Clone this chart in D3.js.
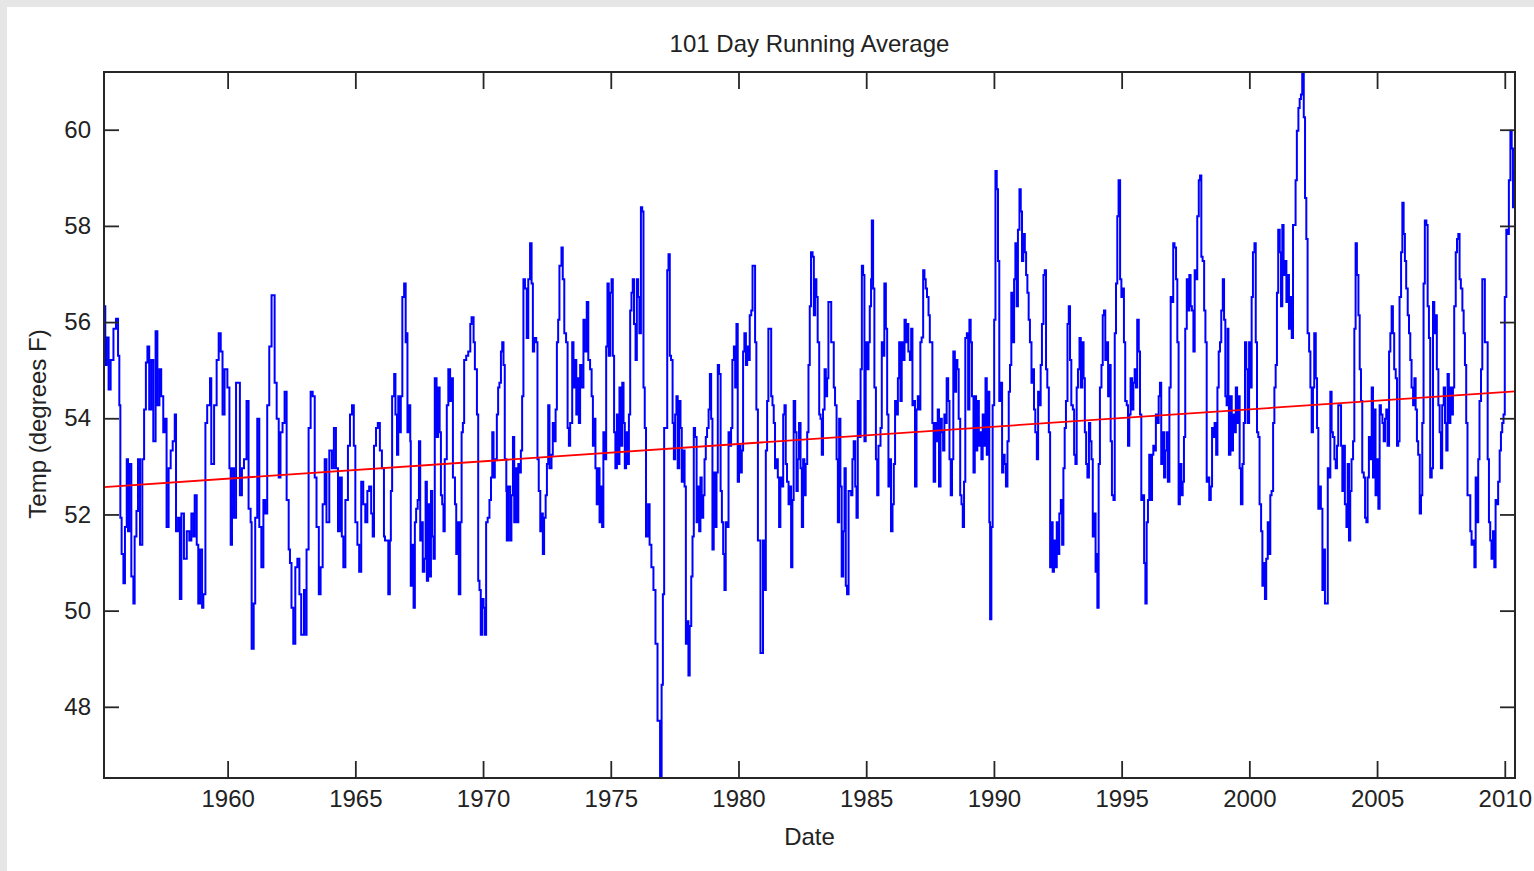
<!DOCTYPE html>
<html>
<head>
<meta charset="utf-8">
<script src="https://cdn.jsdelivr.net/npm/d3@7"></script>
<style>
    body { margin: 0; background: #fff; }
    text { font-family: 'Liberation Sans', Arial, sans-serif; fill: #222; }
</style>
</head>
<body>
<svg id="chart"></svg>
<script>
// 101 day running average, [decimal year, deg F]
const seg1955 = [
[1955.16,56.33],[1955.21,55.11],[1955.26,55.68],[1955.34,54.60],[1955.42,55.21],[1955.53,55.86],[1955.63,56.07],[1955.71,55.30],[1955.76,54.27],[1955.80,51.93],[1955.85,51.18],[1955.92,50.57],[1955.98,51.74],[1956.05,53.15],[1956.10,51.65],[1956.15,53.05],[1956.23,50.71],[1956.31,50.15],[1956.36,51.54],[1956.43,52.07],[1956.49,53.15],[1956.57,51.37],[1956.66,53.15],[1956.73,54.18],[1956.80,55.16],[1956.86,55.49],[1956.93,54.18],[1957.01,55.21],[1957.09,53.52],[1957.18,55.81],[1957.25,54.27],[1957.33,55.02],[1957.40,54.46],[1957.48,53.71],[1957.55,53.99],[1957.61,51.74],[1957.69,52.96],[1957.77,53.33],[1957.85,53.52],[1957.93,54.08],[1957.98,51.65],[1958.06,51.93],[1958.13,50.24],[1958.19,52.02],[1958.29,51.08],[1958.40,51.65],[1958.50,51.46],[1958.58,52.02],[1958.66,51.54],[1958.71,52.40],[1958.79,51.37],[1958.85,50.15],[1958.92,51.27],[1959.00,50.06],[1959.05,50.34],[1959.13,53.90],[1959.20,54.27],[1959.31,54.83],[1959.36,53.05],[1959.47,54.27],[1959.57,55.21],[1959.65,55.77],[1959.73,55.39],[1959.80,54.08],[1959.88,55.02],[1959.99,54.64],
[1960.07,52.96],[1960.12,51.37],[1960.17,52.96],[1960.25,51.93],[1960.33,54.74],[1960.40,54.74],[1960.48,52.40],[1960.56,52.96],[1960.64,53.15],[1960.74,54.36],[1960.82,52.12],[1960.90,51.84],[1960.94,49.21],[1961.02,50.15],[1961.08,51.93],[1961.16,53.99],[1961.24,51.74],[1961.32,50.90],[1961.40,52.30],[1961.47,52.02],[1961.55,54.27],[1961.63,55.49],[1961.72,56.56],[1961.79,56.56],[1961.84,54.74],[1961.92,53.99],[1962.00,52.77],[1962.07,53.71],[1962.15,53.90],[1962.23,54.55],[1962.31,52.30],[1962.39,51.27],[1962.44,50.99],[1962.50,50.06],[1962.57,49.31],[1962.65,50.90],[1962.73,51.08],[1962.81,50.34],[1962.88,49.50],[1962.99,50.43],[1963.07,49.50],[1963.09,51.27],[1963.17,53.80],[1963.25,54.55],[1963.33,54.46],[1963.41,52.77],[1963.48,51.74],[1963.57,50.34],[1963.64,50.90],[1963.72,52.21],[1963.80,53.15],[1963.87,51.84],[1963.98,53.33],[1964.08,52.96],[1964.16,53.80],[1964.24,52.96],[1964.32,51.65],[1964.40,52.77],[1964.47,51.54],[1964.53,50.90],[1964.61,52.30],[1964.71,53.43],[1964.79,54.08],[1964.87,54.27],[1964.94,53.43],[1965.00,51.84],[1965.08,51.37],[1965.15,50.81],[1965.23,52.68],[1965.31,52.21],[1965.39,51.84],[1965.47,52.49],[1965.54,52.58],[1965.62,52.02],[1965.68,51.54],[1965.73,53.43],[1965.81,53.80],[1965.88,53.90],[1965.96,53.33],[1966.04,52.96],[1966.12,51.54]
];
const seg1966 = [
[1966.16,51.46],[1966.29,50.34],[1966.35,51.46],[1966.39,52.49],[1966.44,54.46],[1966.52,54.92],[1966.57,54.08],[1966.63,53.24],[1966.68,54.46],[1966.74,53.71],[1966.78,54.46],[1966.84,56.52],[1966.91,56.80],[1966.97,55.58],[1967.02,55.77],[1967.04,53.71],[1967.10,54.27],[1967.15,53.52],[1967.17,50.52],[1967.23,51.37],[1967.28,50.06],[1967.33,51.84],[1967.38,52.12],[1967.44,52.30],[1967.49,53.52],[1967.54,51.46],[1967.59,51.84],[1967.64,50.81],[1967.70,51.08],[1967.75,52.68],[1967.80,50.62],[1967.85,52.21],[1967.91,50.71],[1967.96,52.49],[1968.01,51.54],[1968.06,51.08],[1968.11,54.83],[1968.18,53.61],[1968.24,54.64],[1968.30,53.71],[1968.35,52.40],[1968.40,52.21],[1968.45,51.65],[1968.50,53.15],[1968.58,54.27],[1968.64,55.02],[1968.71,54.36],[1968.77,54.83],[1968.82,52.77],[1968.90,52.21],[1968.95,51.18],[1969.00,51.84],[1969.05,50.34],[1969.11,51.84],[1969.16,53.71],[1969.21,53.90],[1969.26,55.21],[1969.34,55.30],[1969.42,55.39],[1969.50,55.96],[1969.55,56.10],[1969.63,55.58],[1969.68,55.02],[1969.76,54.08],[1969.81,50.62],[1969.86,50.43],[1969.91,49.50],[1969.97,50.24],
[1970.02,50.06],[1970.07,49.50],[1970.12,51.84],[1970.18,51.93],[1970.25,52.30],[1970.31,52.77],[1970.36,53.71],[1970.41,52.77],[1970.46,53.15],[1970.54,54.08],[1970.59,54.64],[1970.64,54.74],[1970.70,55.39],[1970.75,55.58],[1970.80,55.11],[1970.85,53.15],[1970.91,52.49],[1970.93,51.46],[1970.98,52.58],[1971.06,51.46],[1971.11,52.40],[1971.17,53.61],[1971.22,51.84],[1971.27,52.96],[1971.32,51.84],[1971.38,53.05],[1971.43,52.87],[1971.48,53.33],[1971.53,54.46],[1971.58,56.89],[1971.64,56.70],[1971.71,55.67],[1971.77,56.89],[1971.84,57.64],[1971.90,56.80],[1971.95,55.39],[1972.00,55.67],[1972.08,55.58],[1972.13,53.15],[1972.18,52.49],[1972.24,51.65],[1972.29,52.02],[1972.34,51.18],[1972.39,51.93],[1972.45,52.40],[1972.50,53.05],[1972.55,54.27],[1972.60,52.96],[1972.68,53.24],[1972.73,53.90],[1972.78,53.52],[1972.84,54.18],[1972.89,55.58],[1972.94,56.05],[1972.99,57.17],[1973.07,57.55],[1973.12,56.89],[1973.18,55.77],[1973.25,55.58],[1973.31,53.80],[1973.36,53.43],[1973.41,53.90],[1973.49,55.58],[1973.54,54.64],[1973.59,55.21],[1973.65,54.08],[1973.70,54.83],[1973.75,53.90],[1973.80,55.11],[1973.85,54.64],[1973.93,56.05],[1973.98,55.39],[1974.06,56.42],[1974.12,55.21],[1974.19,55.02],[1974.25,54.46],[1974.30,53.43],[1974.35,53.99],[1974.40,52.96],[1974.45,52.21],[1974.51,52.96],[1974.56,51.84],[1974.61,52.58],[1974.66,51.74],[1974.71,53.71],[1974.77,53.15],[1974.82,55.49],[1974.87,56.80],[1974.92,55.30],[1974.98,56.61],[1975.03,56.89],[1975.08,55.30],[1975.13,53.71],[1975.18,52.96],[1975.24,54.08],[1975.29,53.05],[1975.34,54.64],[1975.39,53.43],[1975.45,54.74],[1975.50,53.90],[1975.55,52.96],[1975.60,53.71],[1975.65,53.05],[1975.71,54.08],[1975.76,56.24],[1975.81,56.61],[1975.86,56.89],[1975.91,55.96],[1975.97,55.21],[1976.02,56.89],[1976.07,56.52],[1976.12,55.77],[1976.18,58.39],[1976.23,58.30],[1976.28,54.64],[1976.33,53.80],[1976.38,51.54],[1976.46,52.21],[1976.52,51.37],[1976.59,50.90],[1976.67,50.43],[1976.75,49.31],[1976.83,47.71],[1976.88,47.71],[1976.93,46.52],[1976.99,48.46],[1977.04,50.34],[1977.09,53.80]
];
const seg1977 = [
[1977.21,57.08],[1977.26,57.41],[1977.31,55.30],[1977.36,55.21],[1977.42,53.90],[1977.47,53.15],[1977.52,54.08],[1977.57,54.46],[1977.62,52.96],[1977.68,54.36],[1977.73,53.80],[1977.78,52.68],[1977.83,53.33],[1977.89,52.58],[1977.94,49.31],[1977.99,49.78],[1978.04,48.65],[1978.09,49.68],[1978.15,50.71],[1978.20,51.54],[1978.25,53.80],[1978.30,53.61],[1978.36,51.84],[1978.41,52.58],[1978.46,51.65],[1978.51,52.77],[1978.56,51.93],[1978.62,52.40],[1978.67,53.15],[1978.72,53.61],[1978.77,53.80],[1978.83,54.18],[1978.88,54.92],[1978.93,53.99],[1978.98,51.27],[1979.03,52.87],[1979.09,51.74],[1979.14,52.87],[1979.19,55.11],[1979.24,54.92],[1979.30,52.49],[1979.35,51.84],[1979.40,51.18],[1979.45,50.43],[1979.50,51.84],[1979.56,51.74],[1979.61,53.71],[1979.66,53.43],[1979.71,53.80],[1979.76,55.21],[1979.82,55.49],[1979.87,54.64],[1979.92,55.96],[1979.97,52.68],
[1980.02,53.43],[1980.08,52.87],[1980.13,53.33],[1980.18,55.39],[1980.23,55.77],[1980.29,55.11],[1980.34,55.49],[1980.39,55.21],[1980.44,56.14],[1980.50,56.24],[1980.55,57.17],[1980.60,57.17],[1980.65,55.58],[1980.70,54.18],[1980.76,51.46],[1980.81,51.46],[1980.86,49.12],[1980.91,49.12],[1980.96,51.46],[1981.02,50.43],[1981.07,53.33],[1981.12,54.36],[1981.17,55.86],[1981.22,55.86],[1981.28,54.46],[1981.33,54.27],[1981.38,53.90],[1981.43,52.96],[1981.49,53.15],[1981.54,52.77],[1981.59,51.74],[1981.64,52.77],[1981.69,52.58],[1981.75,54.08],[1981.80,54.27],[1981.85,53.05],[1981.90,52.68],[1981.96,52.21],[1982.01,52.58],[1982.06,50.90],[1982.11,52.30],[1982.16,54.36],[1982.22,53.71],[1982.27,52.49],[1982.32,53.15],[1982.37,53.90],[1982.43,52.96],[1982.48,51.74],[1982.53,53.15],[1982.58,52.40],[1982.63,53.05],[1982.69,53.71],[1982.74,55.11],[1982.79,56.33],[1982.84,57.45],[1982.90,57.36],[1982.95,56.14],[1983.00,56.89],[1983.05,56.52],[1983.10,55.58],[1983.16,54.08],[1983.21,53.99],[1983.26,53.24],[1983.31,54.18],[1983.37,55.02],[1983.42,54.46],[1983.47,54.83],[1983.52,56.42],[1983.57,56.42],[1983.63,55.58],[1983.68,55.58],[1983.73,54.64],[1983.78,54.27],[1983.84,53.15],[1983.89,51.84],[1983.94,53.99],[1983.99,52.58],[1984.04,50.71],[1984.10,51.65],[1984.15,52.96],[1984.20,50.52],[1984.25,50.34],[1984.31,52.49],[1984.36,52.49],[1984.41,52.40],[1984.46,53.15],[1984.51,53.52],[1984.57,52.58],[1984.62,51.93],[1984.67,54.36],[1984.72,53.61],[1984.78,55.02],[1984.83,57.17],[1984.88,56.98],[1984.93,53.52],[1984.98,55.58],[1985.04,55.02],[1985.09,55.58],[1985.14,56.33],[1985.19,56.89],[1985.22,58.11],[1985.27,56.70],[1985.32,54.64],[1985.38,53.15],[1985.43,52.40],[1985.48,53.43],[1985.56,53.80],[1985.61,55.58],[1985.66,55.30],[1985.71,56.80],[1985.77,55.86],[1985.82,54.08],[1985.87,52.58],[1985.92,53.15],[1985.97,51.65],[1986.03,52.21],[1986.08,53.05],[1986.13,54.36],[1986.18,54.08],[1986.24,54.83],[1986.29,55.58],[1986.34,54.36],[1986.39,55.58],[1986.44,55.21],[1986.50,56.05],[1986.55,55.58],[1986.60,55.96],[1986.65,55.39],[1986.71,55.21],[1986.76,55.86],[1986.81,54.27],[1986.86,54.36],[1986.91,52.58],[1986.97,54.18],[1987.02,54.46],[1987.07,54.18],[1987.12,55.58],[1987.17,55.68],[1987.23,57.08],[1987.28,56.89],[1987.33,56.70],[1987.38,56.52],[1987.44,56.14],[1987.49,55.58],[1987.54,55.58],[1987.59,53.90],[1987.64,52.68],[1987.70,53.90],[1987.75,53.52],[1987.80,54.18],[1987.85,52.58],[1987.91,53.99],[1987.96,53.71],[1988.01,53.33],[1988.06,54.08],[1988.11,53.90]
];
const seg1988 = [
[1988.15,54.83],[1988.21,54.36],[1988.26,53.15],[1988.31,52.40],[1988.36,53.15],[1988.41,55.39],[1988.47,54.55],[1988.52,55.21],[1988.57,55.02],[1988.62,53.99],[1988.68,52.40],[1988.73,52.21],[1988.78,51.74],[1988.83,52.68],[1988.88,55.67],[1988.94,55.77],[1988.99,54.18],[1989.04,56.05],[1989.09,55.58],[1989.14,54.46],[1989.20,52.87],[1989.25,54.46],[1989.30,53.33],[1989.35,54.36],[1989.41,53.43],[1989.46,53.71],[1989.51,53.15],[1989.56,54.08],[1989.61,53.43],[1989.67,54.83],[1989.72,53.24],[1989.77,54.55],[1989.82,51.84],[1989.85,49.82],[1989.90,51.74],[1989.95,54.27],
[1990.01,56.05],[1990.06,59.14],[1990.11,58.76],[1990.16,57.27],[1990.21,54.36],[1990.27,54.74],[1990.32,52.87],[1990.37,53.24],[1990.42,53.05],[1990.47,52.58],[1990.53,53.52],[1990.58,54.55],[1990.63,55.11],[1990.68,56.61],[1990.74,55.58],[1990.79,56.89],[1990.84,57.64],[1990.89,56.33],[1990.94,57.92],[1991.00,58.76],[1991.05,58.30],[1991.10,57.27],[1991.15,57.83],[1991.21,57.45],[1991.26,56.98],[1991.31,56.61],[1991.36,56.05],[1991.41,55.58],[1991.47,54.74],[1991.52,55.02],[1991.57,54.18],[1991.62,53.71],[1991.68,53.15],[1991.73,54.55],[1991.78,54.27],[1991.83,55.11],[1991.88,55.96],[1991.94,56.98],[1991.99,57.08],[1992.04,55.02],[1992.09,54.64],[1992.15,53.71],[1992.20,50.90],[1992.25,51.84],[1992.30,50.81],[1992.35,51.46],[1992.41,50.90],[1992.46,51.84],[1992.51,51.18],[1992.56,52.02],[1992.62,52.30],[1992.67,51.37],[1992.72,52.96],[1992.77,53.80],[1992.82,54.36],[1992.88,55.96],[1992.93,56.33],[1992.98,55.21],[1993.03,54.27],[1993.09,54.18],[1993.14,53.24],[1993.19,53.05],[1993.24,54.64],[1993.29,55.02],[1993.35,55.67],[1993.40,54.64],[1993.46,55.58],[1993.51,54.83],[1993.56,53.71],[1993.61,53.05],[1993.66,52.77],[1993.72,53.90],[1993.77,53.52],[1993.82,53.15],[1993.87,51.54],[1993.92,52.02],[1993.98,50.81],[1994.03,51.18],[1994.05,50.06],[1994.10,53.05],[1994.15,54.64],[1994.21,55.11],[1994.26,56.14],[1994.31,56.24],[1994.36,55.21],[1994.41,55.58],[1994.47,54.46],[1994.52,55.11],[1994.57,53.52],[1994.62,52.40],[1994.68,52.30],[1994.73,55.77],[1994.78,56.80],[1994.83,58.20],[1994.88,58.95],[1994.94,56.89],[1994.99,56.52],[1995.04,56.70],[1995.09,55.58],[1995.14,54.36],[1995.20,54.27],[1995.25,53.43],[1995.30,54.08],[1995.35,54.83],[1995.41,54.18],[1995.46,54.74],[1995.51,55.02],[1995.56,54.64],[1995.61,56.05],[1995.67,55.39],[1995.72,54.08],[1995.77,52.30],[1995.82,52.40],[1995.88,50.99],[1995.93,50.15],[1995.98,51.84],[1996.03,52.30],[1996.08,53.24],[1996.14,52.30],[1996.19,53.24],[1996.24,53.43],[1996.29,53.33],[1996.34,54.08],[1996.40,53.90],[1996.45,54.46],[1996.50,54.74],[1996.55,53.05],[1996.61,53.71],[1996.66,52.77],[1996.71,53.33],[1996.76,53.71],[1996.81,52.68],[1996.87,54.64],[1996.92,56.52],[1996.97,56.42],[1997.02,57.64],[1997.07,57.55],[1997.13,56.89],[1997.18,55.58],[1997.23,52.21],[1997.28,53.05],[1997.34,52.40],[1997.39,52.68],[1997.44,53.61],[1997.49,55.86],[1997.55,56.89],[1997.60,56.24],[1997.65,56.98],[1997.70,56.33],[1997.75,56.24],[1997.81,55.39],[1997.86,57.08],[1997.91,56.89],[1997.96,58.20],[1998.02,58.95],[1998.07,59.05],[1998.12,57.36],[1998.17,57.27],[1998.23,56.24],[1998.28,55.58],[1998.33,52.68],[1998.38,52.77],[1998.43,52.30],[1998.49,52.58],[1998.54,53.80],[1998.59,53.61],[1998.64,53.90],[1998.70,53.24],[1998.75,54.64],[1998.80,55.39],[1998.85,55.58],[1998.90,56.24],[1998.96,56.89],[1999.01,56.05],[1999.06,54.46],[1999.11,54.27]
];
const seg1999 = [
[1999.15,55.86],[1999.18,54.46],[1999.20,53.24],[1999.26,54.46],[1999.31,53.33],[1999.36,54.08],[1999.41,53.71],[1999.47,54.64],[1999.52,53.90],[1999.57,54.46],[1999.62,52.96],[1999.67,52.21],[1999.73,53.05],[1999.78,53.90],[1999.83,55.58],[1999.88,55.02],[1999.93,53.90],[1999.99,55.58],
[2000.04,54.64],[2000.09,56.52],[2000.14,57.45],[2000.20,57.64],[2000.25,55.58],[2000.30,53.71],[2000.35,53.61],[2000.40,52.21],[2000.46,51.65],[2000.51,50.52],[2000.56,50.99],[2000.61,50.24],[2000.66,51.08],[2000.72,51.84],[2000.77,51.18],[2000.82,52.40],[2000.87,52.49],[2000.93,53.90],[2000.98,54.64],[2001.03,55.11],[2001.08,56.61],[2001.13,57.92],[2001.19,57.45],[2001.24,56.33],[2001.29,58.02],[2001.34,56.98],[2001.40,57.27],[2001.45,56.42],[2001.50,56.98],[2001.55,55.86],[2001.60,56.52],[2001.66,55.67],[2001.71,58.02],[2001.76,58.02],[2001.81,58.95],[2001.86,59.98],[2001.92,60.45],[2001.97,60.64],[2002.02,60.73],[2002.07,61.20],[2002.13,60.26],[2002.18,58.58],[2002.23,57.73],[2002.28,55.77],[2002.34,55.39],[2002.39,54.64],[2002.44,53.71],[2002.49,54.64],[2002.54,55.77],[2002.60,54.83],[2002.65,53.80],[2002.70,52.12],[2002.75,52.58],[2002.80,52.12],[2002.86,50.43],[2002.91,51.27],[2002.96,50.15],[2003.01,50.15],[2003.07,52.96],[2003.12,52.77],[2003.17,54.55],[2003.22,53.71],[2003.27,53.61],[2003.33,53.15],[2003.38,52.96],[2003.43,53.43],[2003.48,54.27],[2003.53,54.27],[2003.59,53.43],[2003.64,52.49],[2003.69,53.43],[2003.74,52.21],[2003.80,51.74],[2003.85,53.05],[2003.90,51.46],[2003.95,52.49],[2004.00,53.15],[2004.06,53.52],[2004.11,55.86],[2004.16,57.64],[2004.21,56.98],[2004.27,56.14],[2004.32,55.02],[2004.37,54.36],[2004.42,52.87],[2004.48,52.77],[2004.53,51.93],[2004.58,51.84],[2004.63,52.77],[2004.68,53.61],[2004.74,53.15],[2004.79,54.64],[2004.84,52.77],[2004.89,54.18],[2004.94,52.40],[2005.00,53.15],[2005.05,52.12],[2005.10,54.27],[2005.15,54.08],[2005.21,53.90],[2005.26,53.52],[2005.31,53.99],[2005.36,54.18],[2005.41,53.43],[2005.47,55.39],[2005.52,55.77],[2005.57,56.33],[2005.62,55.77],[2005.67,55.02],[2005.73,54.83],[2005.78,53.43],[2005.83,53.52],[2005.88,56.52],[2005.94,57.45],[2005.99,58.48],[2006.04,57.83],[2006.09,57.27],[2006.14,56.70],[2006.20,56.14],[2006.25,55.77],[2006.30,55.21],[2006.35,54.64],[2006.41,54.27],[2006.46,54.83],[2006.51,54.18],[2006.56,53.52],[2006.61,53.24],[2006.67,52.02],[2006.72,52.40],[2006.77,53.90],[2006.82,56.80],[2006.87,58.11],[2006.93,58.02],[2006.98,56.33],[2007.03,55.67],[2007.08,52.77],[2007.14,52.96],[2007.19,56.42],[2007.24,55.77],[2007.29,56.14],[2007.34,55.02],[2007.40,54.27],[2007.45,53.71],[2007.50,52.96],[2007.55,54.27],[2007.61,54.64],[2007.66,53.90],[2007.71,53.33],[2007.76,54.92],[2007.81,53.90],[2007.87,54.64],[2007.92,54.08],[2007.97,54.64],[2008.02,56.33],[2008.08,57.45],[2008.13,57.73],[2008.18,57.83],[2008.23,56.89],[2008.28,56.70],[2008.34,56.24],[2008.39,55.77],[2008.44,55.11],[2008.49,53.90],[2008.54,52.40],[2008.60,52.40],[2008.65,51.65],[2008.70,51.37],[2008.75,51.46],[2008.81,50.90],[2008.86,52.77],[2008.91,51.84],[2008.96,53.15],[2009.01,54.36],[2009.07,55.02],[2009.12,56.89],[2009.17,56.89],[2009.22,55.58],[2009.27,55.58],[2009.33,53.15],[2009.38,51.84],[2009.43,51.46],[2009.48,51.08],[2009.54,51.65],[2009.59,50.90],[2009.64,52.30],[2009.69,52.21],[2009.74,52.68],[2009.80,53.33],[2009.85,53.71],[2009.90,53.90],[2009.95,54.08],[2010.00,56.52],[2010.06,57.92],[2010.11,57.83],[2010.16,58.95],[2010.22,59.98],[2010.27,59.61],[2010.32,58.39],[2010.37,59.14],[2010.40,58.67]
];

// linear trend (red line), ends
const trendYears = [1955.16, 2010.40];
const trendTemps = [52.57, 54.56];

const xTicks = [1960, 1965, 1970, 1975, 1980, 1985, 1990, 1995, 2000, 2005, 2010];
const yTicks = [48, 50, 52, 54, 56, 58, 60];

const chartTitle = '101 Day Running Average';
const xLabel = 'Date';
const yLabel = 'Temp (degrees F)';

class RunningAvgChart{
    constructor(config, data, trend){
        this.config = {
            parent: config.parent || '#chart',
            width: config.width || 1534,
            height: config.height || 871,
            margin: config.margin || {top: 72, right: 19, bottom: 93, left: 104}
        };
        this.data = data;
        this.trend = trend;
        this.init();
    }

    init(){
        const m = this.config.margin;
        this.innerW = this.config.width - m.left - m.right;
        this.innerH = this.config.height - m.top - m.bottom;

        this.svg = d3.select(this.config.parent)
            .attr('width', this.config.width)
            .attr('height', this.config.height);

        // grey window edge at top and left
        this.svg.append('rect')
            .attr('width', this.config.width)
            .attr('height', this.config.height)
            .attr('fill', '#e6e6e6');
        this.svg.append('rect')
            .attr('x', 7).attr('y', 7)
            .attr('width', this.config.width - 7)
            .attr('height', this.config.height - 7)
            .attr('fill', '#fff');

        this.chart = this.svg.append('g')
            .attr('transform', `translate(${m.left},${m.top})`);

        this.xScale = d3.scaleLinear()
            .domain(d3.extent(this.data, d => d[0]))
            .range([0, this.innerW]);

        this.yScale = d3.scaleLinear()
            .domain(d3.extent(this.data, d => d[1]))
            .range([this.innerH, 0]);
    }

    render(){
        const w = this.innerW, h = this.innerH;

        this.chart.append('clipPath')
            .attr('id', 'plot-clip')
            .append('rect')
            .attr('width', w).attr('height', h);

        const line = d3.line()
            .x(d => this.xScale(d[0]))
            .y(d => this.yScale(d[1]))
            .curve(d3.curveStepAfter);

        this.chart.append('path')
            .datum(this.data)
            .attr('clip-path', 'url(#plot-clip)')
            .attr('fill', 'none')
            .attr('stroke', '#0000ff')
            .attr('stroke-width', 2)
            .attr('d', line);

        this.chart.append('path')
            .datum(this.trend)
            .attr('fill', 'none')
            .attr('stroke', '#ff0000')
            .attr('stroke-width', 1.8)
            .attr('d', d3.line().x(d => this.xScale(d[0])).y(d => this.yScale(d[1])));

        const styleAxis = g => {
            g.select('.domain').remove();
            g.selectAll('.tick line').attr('stroke', '#262626').attr('stroke-width', 1.8);
            g.selectAll('.tick text').attr('font-size', 24).attr('fill', '#222');
        };

        this.chart.append('g')
            .attr('transform', `translate(0,${h})`)
            .call(d3.axisBottom(this.xScale).tickValues(xTicks).tickFormat(d3.format('d'))
                .tickSize(-17).tickSizeOuter(0).tickPadding(12))
            .call(styleAxis);

        this.chart.append('g')
            .call(d3.axisTop(this.xScale).tickValues(xTicks).tickFormat('')
                .tickSize(-17).tickSizeOuter(0))
            .call(styleAxis);

        this.chart.append('g')
            .call(d3.axisLeft(this.yScale).tickValues(yTicks).tickFormat(d3.format('d'))
                .tickSize(-15).tickSizeOuter(0).tickPadding(13))
            .call(styleAxis);

        this.chart.append('g')
            .attr('transform', `translate(${w},0)`)
            .call(d3.axisRight(this.yScale).tickValues(yTicks).tickFormat('')
                .tickSize(-15).tickSizeOuter(0))
            .call(styleAxis);

        this.chart.append('rect')
            .attr('width', w).attr('height', h)
            .attr('fill', 'none')
            .attr('stroke', '#262626')
            .attr('stroke-width', 2);

        this.chart.append('text')
            .attr('x', w / 2).attr('y', -20)
            .attr('text-anchor', 'middle')
            .attr('font-size', 24)
            .text(chartTitle);

        this.chart.append('text')
            .attr('x', w / 2).attr('y', h + 67)
            .attr('text-anchor', 'middle')
            .attr('font-size', 24)
            .text(xLabel);

        this.chart.append('text')
            .attr('transform', `translate(-58,${h / 2 - 1}) rotate(-90)`)
            .attr('text-anchor', 'middle')
            .attr('font-size', 24)
            .text(yLabel);
    }
}

const runAvg = [].concat(seg1955, seg1966, seg1977, seg1988, seg1999);
const trend = trendYears.map((yr, i) => [yr, trendTemps[i]]);

const chart = new RunningAvgChart({parent: '#chart'}, runAvg, trend);
chart.render();
</script>
</body>
</html>
